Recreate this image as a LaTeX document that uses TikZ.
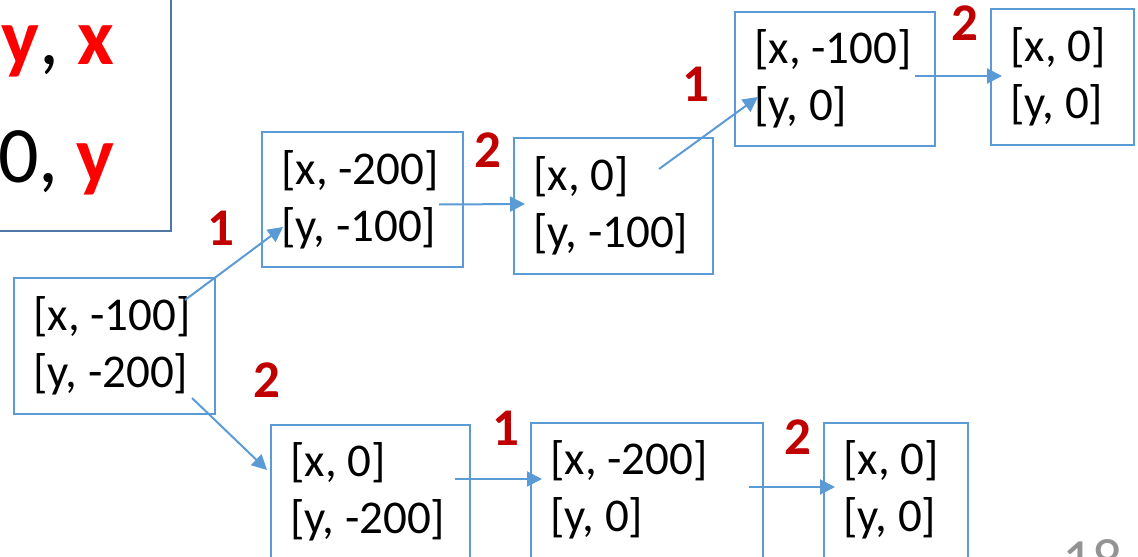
\documentclass[tikz,border=0pt]{standalone}
\usepackage{fontspec}
\setmainfont{Carlito}
\usetikzlibrary{positioning, arrows.meta}

\definecolor{boxblue}{HTML}{5B9BD5}
\definecolor{slideblue}{HTML}{4F77A8}
\definecolor{numred}{HTML}{C00000}
\definecolor{keyred}{HTML}{FF0000}

\tikzset{
  box/.style={draw=boxblue, line width=1pt, rectangle, inner sep=0pt, anchor=north west},
  txt/.style={align=left, inner sep=0pt, font=\fontsize{23.5}{28.5}\selectfont},
  lbl/.style={text=numred, inner sep=0pt, font=\fontsize{26.5}{26.5}\selectfont\bfseries},
  move/.style={draw=boxblue, line width=1pt, -{Triangle[length=7.5pt,width=7.5pt]}},
  key/.style={anchor=base east, inner sep=0pt, font=\fontsize{40}{40}\selectfont},
}

\begin{document}
\begin{tikzpicture}[x=0.5pt, y=-0.5pt]
    \useasboundingbox (0,0) rectangle (1138,556);
    \clip (0,0) rectangle (1138,556);

    % box left over from the previous slide
    \node[draw=slideblue, line width=1pt, minimum width=100pt, minimum height=130pt, anchor=south east] (prev) at (172,232) {};
    \node[key] (k1) at (115,65) {\textbf{\color{keyred}y}, \textbf{\color{keyred}x}};
    \node[key] (k2) at (115,182) {0, \textbf{\color{keyred}y}};

    % states
    \node[box, minimum width=100.5pt, minimum height=68pt] (bA) at (13,277) {};
    \node[box, minimum width=100.5pt, minimum height=67.5pt] (bB) at (261,131) {};
    \node[box, minimum width=99.5pt, minimum height=68pt] (bC) at (513,137) {};
    \node[box, minimum width=100pt, minimum height=67pt] (bD) at (734,11) {};
    \node[box, minimum width=71.5pt, minimum height=68pt] (bE) at (990,8) {};
    \node[box, minimum width=99.5pt, minimum height=67.5pt] (bF) at (270,424) {};
    \node[box, minimum width=116pt, minimum height=67.5pt] (bG) at (530,422) {};
    \node[box, minimum width=72pt, minimum height=67.5pt] (bH) at (823,422) {};

    \node[txt, right=10pt of bA.west] (tA) {[x, -100]\\{}[y, -200]};
    \node[txt, right=10pt of bB.west] (tB) {[x, -200]\\{}[y, -100]};
    \node[txt, right=10pt of bC.west] (tC) {[x, 0]\\{}[y, -100]};
    \node[txt, right=10pt of bD.west] (tD) {[x, -100]\\{}[y, 0]};
    \node[txt, right=10pt of bE.west] (tE) {[x, 0]\\{}[y, 0]};
    \node[txt, right=10pt of bF.north west, yshift=-34pt] (tF) {[x, 0]\\{}[y, -200]};
    \node[txt, right=10pt of bG.north west, yshift=-34pt] (tG) {[x, -200]\\{}[y, 0]};
    \node[txt, right=10pt of bH.north west, yshift=-34pt] (tH) {[x, 0]\\{}[y, 0]};

    % moves
    \draw[move] ([shift={(-31,23)}]bA.north east) -- ([shift={(22,-41)}]bB.south west);
    \draw[move] ([shift={(-24,-17)}]bA.south east) -- ([shift={(-3,46)}]bF.north west);
    \draw[move] ([shift={(-25,5)}]bB.east) -- ([shift={(12,-2)}]bC.west);
    \draw[move] ([shift={(-55,32)}]bC.north east) -- ([shift={(24,-50)}]bD.south west);
    \draw[move] ([shift={(-21,-3)}]bD.east) -- ([shift={(12,-1)}]bE.west);
    \draw[move] ([shift={(-16,55)}]bF.north east) -- ([shift={(12,57)}]bG.north west);
    \draw[move] ([shift={(-15,65)}]bG.north east) -- ([shift={(12,65)}]bH.north west);

    % player numbers
    \node[lbl] (m1) at (221,228) {1};
    \node[lbl] (m2) at (267,380) {2};
    \node[lbl] (m3) at (488,150) {2};
    \node[lbl] (m4) at (696,84) {1};
    \node[lbl] (m5) at (965,23) {2};
    \node[lbl] (m6) at (506,428) {1};
    \node[lbl] (m7) at (798,437) {2};

    \node[anchor=base west, inner sep=0pt, text=gray!85, font=\fontsize{30}{30}\selectfont] (pg) at (1062,580) {18};
\end{tikzpicture}
\end{document}
